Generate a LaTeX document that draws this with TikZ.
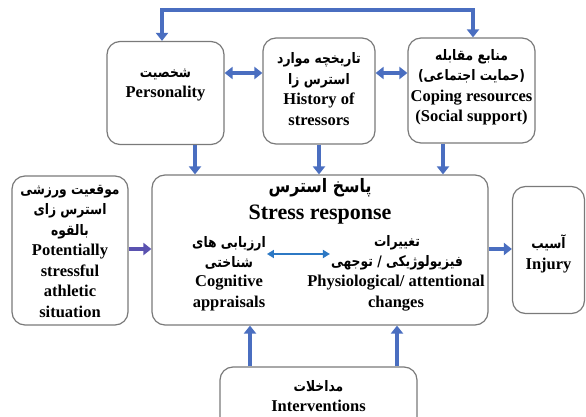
\documentclass[tikz,border=0pt]{standalone}
\usepackage{fontspec}
\usetikzlibrary{arrows.meta}
\setmainfont{Liberation Serif}
\newfontfamily\farsi[Script=Arabic,FakeStretch=0.85]{DejaVu Sans}
\TeXXeTstate=1
\newcommand{\fa}[1]{{\farsi\bfseries\fontsize{14.5}{20.5}\selectfont\beginR #1\endR}}
\definecolor{arrblue}{HTML}{4A6EC0}
\definecolor{arrpurple}{HTML}{5A52B0}
\definecolor{inblue}{HTML}{2C78C4}
\definecolor{boxgray}{HTML}{7A7A7A}
\begin{document}
\begin{tikzpicture}[x=1pt,y=-1pt]
\tikzstyle{box} = [draw=boxgray,fill=white,line width=1.2pt,rounded corners=13pt,inner sep=0pt]
\tikzstyle{txt} = [align=center,font=\bfseries\fontsize{16.5}{20.5}\selectfont,inner sep=1pt]
\tikzstyle{arr} = [arrblue,line width=3.8pt,-{Triangle[length=8pt,width=12pt]}]
\tikzstyle{dbl} = [arrblue,line width=3.8pt,{Triangle[length=8pt,width=12pt]}-{Triangle[length=8pt,width=12pt]}]
\clip (0,0) rectangle (586,417);
\node[box,minimum width=117,minimum height=103] (pers) at (165.5,93) {};
\node[box,minimum width=112,minimum height=106] (hist) at (319,91) {};
\node[box,minimum width=127,minimum height=105] (cope) at (471.5,90.5) {};
\node[box,minimum width=116,minimum height=149] (sit) at (70,250.5) {};
\node[box,minimum width=336,minimum height=150] (stress) at (320,250) {};
\node[box,minimum width=72,minimum height=127] (inj) at (548.5,250) {};
\node[box,minimum width=197,minimum height=64] (intv) at (318.5,399) {};
\node[txt] (persT) at (165.5,85) {\fa{شخصیت}\\Personality};
\node[txt] (histT) at (319,89) {\fa{تاریخچه موارد}\\\fa{استرس زا}\\History of\\stressors};
\node[txt] (copeT) at (471.5,87) {\fa{منابع مقابله}\\\fa{(حمایت اجتماعی)}\\Coping resources\\(Social support)};
\node[txt] (sitT) at (70,251) {\fa{موقعیت ورزشی}\\\fa{استرس زای}\\\fa{بالقوه}\\Potentially\\stressful\\athletic\\situation};
\node[txt,font=\bfseries\fontsize{22}{27}\selectfont] (stressT) at (320,201) {{\farsi\bfseries\fontsize{18.5}{27}\selectfont\beginR پاسخ استرس\endR}\\Stress response};
\node[txt] (cogP) at (229,253) {\fa{ارزیابی های}\\\fa{شناختی}};
\node[txt] (cogT) at (229,293) {Cognitive\\appraisals};
\node[txt] (phyP) at (397,253) {\fa{تغییرات}\\\fa{فیزیولوژیکی / توجهی}};
\node[txt] (phyT) at (396,293) {Physiological/ attentional\\changes};
\node[txt] (injT) at (548.5,254) {\fa{آسیب}\\Injury};
\node[txt] (intvT) at (318.5,396) {\fa{مداخلات}\\Interventions};
\coordinate (loop) at (320,10);
\draw[dbl] (pers.north -| 162,0) |- (loop) -| (cope.north -| 473,0);
\draw[dbl] (pers.east |- 0,73) -- (hist.west |- 0,73);
\draw[dbl] (hist.east |- 0,73) -- (cope.west |- 0,73);
\draw[arr] (pers.south -| 195,0) -- (stress.north -| 195,0);
\draw[arr] (hist.south -| 319,0) -- (stress.north -| 319,0);
\draw[arr] (cope.south -| 443,0) -- (stress.north -| 443,0);
\draw[arr,arrpurple] (sit.east |- 0,249) -- (stress.west |- 0,249);
\draw[arr] (stress.east |- 0,249) -- (inj.west |- 0,249);
\draw[arr] (intv.north -| 250,0) -- (stress.south -| 250,0);
\draw[arr] (intv.north -| 397,0) -- (stress.south -| 397,0);
\draw[inblue,line width=2pt,{Triangle[length=7pt,width=8pt]}-{Triangle[length=7pt,width=8pt]}] (cogP.east |- 0,254) -- (phyP.west |- 0,254);
\end{tikzpicture}
\end{document}
